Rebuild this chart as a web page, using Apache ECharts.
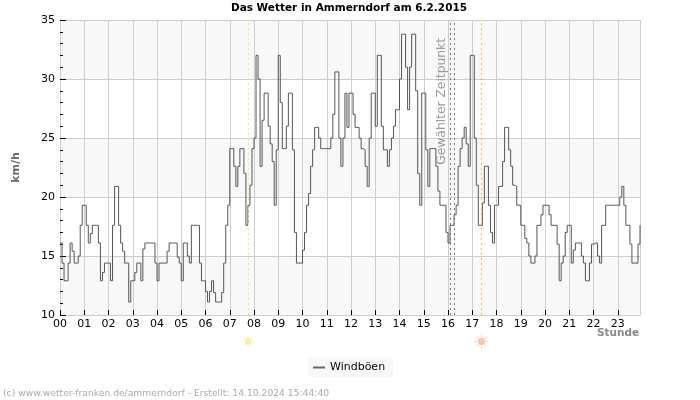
<!DOCTYPE html>
<html>
<head>
<meta charset="utf-8">
<title>Das Wetter in Ammerndorf</title>
<script src="https://cdn.jsdelivr.net/npm/echarts@6/dist/echarts.min.js"></script>
<style>
  html, body { margin: 0; padding: 0; background: #fff; }
  #main { width: 700px; height: 400px; }
</style>
</head>
<body>
<div id="main"></div>
<script>
  // Windboeen, 5-Minuten-Werte, eine Zeile pro Stunde
  const windGusts = [
    16.1,14.4,12.9,12.9,14.4,16.1,15.4,14.4,14.4,15.0,17.6,19.3,
    19.3,17.6,16.1,16.9,17.6,17.6,17.6,16.1,12.9,13.6,14.4,14.4,
    14.4,12.9,17.6,20.9,20.9,17.6,16.1,15.4,14.4,14.4,11.1,12.9,
    12.9,13.6,14.4,14.4,12.9,15.6,16.1,16.1,16.1,16.1,16.1,14.4,
    12.9,14.4,14.4,14.4,14.4,15.4,16.1,16.1,16.1,16.1,14.9,14.4,
    12.9,16.1,16.1,15.0,14.4,17.6,17.6,17.6,17.6,14.4,12.9,12.9,
    12.0,11.1,12.0,12.9,11.9,11.1,11.1,11.1,11.9,14.4,17.6,19.3,
    24.1,24.1,22.6,20.9,22.6,24.1,24.1,22.0,17.6,19.3,21.0,24.1,
    25.0,32.0,30.0,22.6,26.5,28.8,28.8,26.0,24.5,23.0,19.3,24.0,
    32.0,28.0,24.1,24.1,26.0,28.8,28.8,24.0,17.0,14.4,14.4,14.4,
    15.5,17.0,19.3,20.3,22.6,24.0,25.9,25.9,25.0,24.1,24.1,24.1,
    24.1,24.1,25.0,27.0,30.6,30.6,25.0,22.6,25.0,28.8,25.9,28.8,
    28.8,27.0,25.9,25.9,25.0,24.1,24.0,22.6,20.9,25.0,28.8,28.8,
    26.0,32.0,32.0,26.0,24.0,24.0,22.6,24.0,25.0,26.0,27.4,27.4,
    30.0,33.8,33.8,31.0,27.4,31.0,33.8,33.8,29.0,22.0,19.3,28.8,
    28.8,24.0,20.9,24.1,24.1,24.1,22.6,20.5,19.3,19.3,19.3,17.0,
    16.1,17.6,17.6,18.5,19.3,22.6,24.1,25.0,25.9,24.5,22.6,32.0,
    32.0,25.0,21.0,17.6,17.6,19.5,22.6,22.6,19.3,17.0,16.1,19.3,
    19.3,20.9,20.9,23.0,25.9,25.9,24.0,22.6,21.0,20.9,19.3,19.3,
    17.6,17.6,16.5,16.1,15.0,14.4,14.4,15.0,17.6,17.6,18.5,19.3,
    19.3,19.3,18.5,17.6,17.6,17.6,16.0,12.9,14.4,15.0,17.0,17.6,
    17.6,14.4,15.5,16.1,16.1,16.1,15.0,14.4,12.9,12.9,14.4,16.0,
    16.1,16.1,15.0,14.4,17.6,17.6,19.3,19.3,19.3,19.3,19.3,19.3,
    19.3,20.0,20.9,19.3,17.6,17.6,16.0,14.4,14.4,14.4,16.0,17.6
  ]
  const sunrise = 7.76
  const sunset = 17.38
  const selectedTime = [16.08, 16.26]

  const sunPath = 'path://M12 6a6 6 0 1 0 0 12a6 6 0 1 0 0-12zM11.4 0h1.2v5h-1.2zM11.4 19h1.2v5h-1.2zM0 11.4h5v1.2h-5zM19 11.4h5v1.2h-5zM3.5 4.4l.9-.9 3.5 3.5-.9.9zM16.1 17l.9-.9 3.5 3.5-.9.9zM19.6 3.5l.9.9-3.5 3.5-.9-.9zM7 16.1l.9.9-3.5 3.5-.9-.9z'
  const font = '"DejaVu Sans", sans-serif'

  const chart = echarts.init(document.getElementById('main'))
  chart.setOption({
    animation: false,
    textStyle: { fontFamily: font },
    title: [
      {
        text: 'Das Wetter in Ammerndorf am 6.2.2015',
        left: 349, top: 3, textAlign: 'center', padding: 0,
        textStyle: { fontFamily: font, fontSize: 10.5, fontWeight: 'bold', color: '#000' }
      },
      {
        text: '(c) www.wetter-franken.de/ammerndorf - Erstellt: 14.10.2024 15:44:40',
        left: 3, top: 389, padding: 0,
        textStyle: { fontFamily: font, fontSize: 9.2, fontWeight: 'normal', color: '#aaa' }
      },
      {
        // Achsenname als Titel, der Achsenname selbst wird von ECharts verschoben
        text: 'Stunde',
        left: 597, top: 328, padding: 0,
        textStyle: { fontFamily: font, fontSize: 10.5, fontWeight: 'bold', color: '#888' }
      }
    ],
    legend: {
      left: 308, top: 358,
      padding: [4, 8, 4, 5],
      backgroundColor: '#f8f8f8',
      icon: 'rect', itemWidth: 12, itemHeight: 2, itemGap: 5,
      data: ['Windböen'],
      textStyle: { fontFamily: font, fontSize: 11, color: '#000' }
    },
    grid: { left: 60, right: 60, top: 20, bottom: 85 },
    xAxis: {
      type: 'value',
      min: 0, max: 287 / 12, interval: 1,
      axisLine: { onZero: false, lineStyle: { color: '#ccc' } },
      axisTick: { inside: true, length: 5, lineStyle: { color: '#000' } },
      axisLabel: {
        showMaxLabel: false, margin: 4, fontSize: 11, color: '#000',
        formatter: v => Number.isInteger(v) ? String(v).padStart(2, '0') : ''
      },
      splitLine: { show: true, lineStyle: { color: '#ccc' } }
    },
    yAxis: {
      type: 'value',
      min: 10, max: 35, interval: 5,
      name: 'km/h',
      nameLocation: 'middle', nameGap: 38,
      nameTextStyle: { fontFamily: font, fontSize: 11, fontWeight: 'bold', color: '#666' },
      axisLine: { show: true, lineStyle: { color: '#ccc' } },
      axisTick: { show: true, inside: true, length: 6, lineStyle: { color: '#000' } },
      minorTick: { show: true, splitNumber: 5, length: 3, lineStyle: { color: '#000' } },
      axisLabel: { fontSize: 11, color: '#000', margin: 5 },
      splitLine: { show: true, lineStyle: { color: '#ccc' } },
      splitArea: { show: true, areaStyle: { color: ['#f8f8f8', '#ffffff'] } }
    },
    series: [
      {
        name: 'Windböen',
        type: 'line',
        step: 'end',
        symbol: 'none',
        data: windGusts.map((v, i) => [i / 12, v]),
        itemStyle: { color: '#666' },
        lineStyle: { color: '#555', width: 1 },
        markLine: {
          silent: true,
          symbol: 'none',
          precision: 3,
          label: { show: false },
          data: [
            { xAxis: sunrise, lineStyle: { color: '#ffee44', type: [2, 3], width: 1 } },
            { xAxis: sunset, lineStyle: { color: '#ffb833', type: [2, 3], width: 1 } },
            {
              xAxis: selectedTime[0],
              lineStyle: { color: '#777', type: [2, 3], width: 1 },
              label: {
                show: true, formatter: 'Gewählter Zeitpunkt', position: 'insideEndTop',
                distance: [18, 2], fontFamily: font, fontSize: 12.3, color: '#999'
              }
            },
            { xAxis: selectedTime[1], lineStyle: { color: '#777', type: [2, 3], width: 1 } }
          ]
        }
      },
      {
        name: 'Sonnenaufgang',
        type: 'scatter',
        clip: false,
        symbol: sunPath,
        symbolSize: 14,
        silent: true,
        data: [[sunrise, 7.75]],
        itemStyle: { color: '#fde8a0' }
      },
      {
        name: 'Sonnenuntergang',
        type: 'scatter',
        clip: false,
        symbol: sunPath,
        symbolSize: 14,
        silent: true,
        data: [[sunset, 7.75]],
        itemStyle: { color: '#ffb09a' }
      }
    ]
  })
</script>
</body>
</html>
